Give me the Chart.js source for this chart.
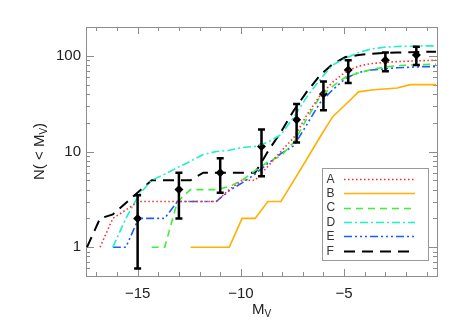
<!DOCTYPE html>
<html>
<head>
<meta charset="utf-8">
<script src="https://cdn.jsdelivr.net/npm/chart.js@4/dist/chart.umd.min.js"></script>
<style>
  html, body { margin: 0; padding: 0; background: #fff; }
  #wrap { width: 463px; height: 331px; position: relative; }
</style>
</head>
<body>
<div id="wrap"><canvas id="lfChart"></canvas></div>
<script>
// magnitude bins the model curves are sampled at
const mvGrid = [-17.45, -16.82, -16.2, -15.57, -14.95, -14.32, -13.69, -13.07, -12.44, -11.82,
                -11.19, -10.56, -9.94, -9.31, -8.69, -8.06, -7.43, -6.81, -6.18, -5.56,
                -4.93, -4.3, -3.68, -3.05, -2.43, -1.8, -1.17, -0.55];

// cumulative counts N(<Mv) for each model
const curveA = [null, 1, 2, 2.45, 3, 3, 3, 3, 3, 3, 3, 4, 5, 5, 7, 10, 14, 24, 38, 53, 68, 78, 83, 85, 87, 88, 89, 90];
const curveB = [null, null, null, null, null, null, null, null, 1, 1, 1, 1, 2, 2, 3, 3, 5, 8.3, 14, 23, 31, 42, 44, 45, 46, 50, 50, 50];
const curveC = [null, null, null, null, null, 1, 1, 3, 4, 4, 4, 4.3, 5, 6.3, 7.8, 9, 12.5, 22, 37, 48, 60, 66, 72, 76, 79, 80, 81, 82];
const curveD = [null, null, 1, 2, 3.5, 5, 5.8, 6.8, 7.9, 9.3, 10, 10.3, 11, 11.3, 12.5, 15, 23, 37, 56, 80, 94, 108, 118, 123, 125, 126, 127, 127];
const curveE = [null, null, 1, 1, 2, 2, 2, 3, 3, 3, 3, 3.9, 4.7, 5.8, 7.5, 9.5, 11.5, 19, 32, 44, 58, 67, 71, 73, 75, 76, 77, 77];
const curveF = [1, 2, 2.2, 2.9, 3.8, 5, 5, 5, 5, 6, 6, 6, 6, 6, 10, 16, 27, 42, 62, 82, 97, 102, 105, 107, 108, 109, 110, 110];

// observed counts with error bars
const obsMv = [-15, -13, -11, -9, -7.3, -6, -4.8, -3, -1.5];
const obsN  = [2, 4, 6, 11.3, 21.5, 40, 71, 90, 102];
const obsLo = [0.6, 2, 3.7, 5.5, 12.4, 27, 52, 69, 80];
const obsHi = [3.5, 6, 8.5, 17, 31.4, 54, 90, 108, 124];

const xTickLabels = [-15, -10, -5];
const yTickLabels = [1, 10, 100];

const toPoints = (ys) => mvGrid.map((mv, i) => ({ x: mv, y: ys[i] }));

function lineSet(label, ys, color, dash, width) {
    return {
        label: label,
        data: toPoints(ys),
        borderColor: color,
        backgroundColor: color,
        borderDash: dash,
        borderWidth: width,
        pointRadius: 0,
        tension: 0,
        spanGaps: false
    };
}

const FONT = "'Liberation Sans', Arial, sans-serif";

// frame box and inward ticks on all four sides
const frameTicks = {
    id: 'frameTicks',
    beforeDatasetsDraw(chart) {
        const { ctx, chartArea: a, scales: { x, y } } = chart;
        ctx.save();
        ctx.strokeStyle = '#8c8c8c';
        ctx.lineWidth = 1;
        ctx.strokeRect(Math.round(a.left) + 0.5, Math.round(a.top) + 0.5,
                       Math.round(a.right - a.left), Math.round(a.bottom - a.top));
        ctx.beginPath();
        for (let v = Math.ceil(x.min); v <= x.max; v++) {
            const px = Math.round(x.getPixelForValue(v)) + 0.5;
            const len = v % 5 === 0 ? 7 : 4;
            ctx.moveTo(px, a.bottom); ctx.lineTo(px, a.bottom - len);
            ctx.moveTo(px, a.top); ctx.lineTo(px, a.top + len);
        }
        for (let d = Math.floor(Math.log10(y.min)); d <= Math.ceil(Math.log10(y.max)); d++) {
            for (let m = 1; m < 10; m++) {
                const v = m * Math.pow(10, d);
                if (v < y.min || v > y.max) continue;
                const py = Math.round(y.getPixelForValue(v)) + 0.5;
                const len = m === 1 ? 8 : 4;
                ctx.moveTo(a.left, py); ctx.lineTo(a.left + len, py);
                ctx.moveTo(a.right, py); ctx.lineTo(a.right - len, py);
            }
        }
        ctx.stroke();
        ctx.restore();
    }
};

// vertical error bars for the observed points
const errorBars = {
    id: 'errorBars',
    afterDatasetsDraw(chart) {
        const { ctx, scales: { x, y } } = chart;
        ctx.save();
        ctx.strokeStyle = '#000';
        ctx.lineWidth = 2.5;
        obsMv.forEach((mv, i) => {
            const px = x.getPixelForValue(mv);
            const top = y.getPixelForValue(obsHi[i]);
            const bot = y.getPixelForValue(obsLo[i]);
            ctx.beginPath();
            ctx.moveTo(px, top); ctx.lineTo(px, bot);
            ctx.moveTo(px - 3.5, top); ctx.lineTo(px + 3.5, top);
            ctx.moveTo(px - 3.5, bot); ctx.lineTo(px + 3.5, bot);
            ctx.stroke();
        });
        ctx.restore();
    }
};

// axis titles with subscripts + boxed legend
const titlesLegend = {
    id: 'titlesLegend',
    afterDraw(chart) {
        const { ctx, chartArea: a } = chart;
        ctx.save();
        ctx.fillStyle = '#222';
        ctx.textBaseline = 'alphabetic';

        // x title: M_V
        const big = '15px ' + FONT, small = '10px ' + FONT;
        ctx.font = big;
        const wM = ctx.measureText('M').width;
        ctx.font = small;
        const wV = ctx.measureText('V').width;
        let cx = (a.left + a.right) / 2 - (wM + wV) / 2;
        ctx.font = big;
        ctx.fillText('M', cx, 314);
        ctx.font = small;
        ctx.fillText('V', cx + wM, 317);

        // y title: N( < M_V)
        ctx.save();
        ctx.translate(44, (a.top + a.bottom) / 2);
        ctx.rotate(-Math.PI / 2);
        ctx.font = big;
        const p1 = 'N( < M', p2 = ')';
        const w1 = ctx.measureText(p1).width, w3 = ctx.measureText(p2).width;
        ctx.font = small;
        const w2 = ctx.measureText('V').width;
        let tx = -(w1 + w2 + w3) / 2;
        ctx.font = big;
        ctx.fillText(p1, tx, 0);
        ctx.font = small;
        ctx.fillText('V', tx + w1, 3);
        ctx.font = big;
        ctx.fillText(p2, tx + w1 + w2, 0);
        ctx.restore();

        // legend box
        const bx = 322.5, by = 168.5, bw = 106, bh = 92;
        ctx.strokeStyle = '#999';
        ctx.lineWidth = 1;
        ctx.strokeRect(bx, by, bw, bh);
        ctx.font = '12px ' + FONT;
        ctx.textBaseline = 'middle';
        chart.data.datasets.slice(0, 6).forEach((ds, i) => {
            const ry = 178.8 + i * 14.4;
            ctx.fillStyle = '#333';
            ctx.fillText(ds.label, 326.5, ry + 0.5);
            ctx.beginPath();
            ctx.setLineDash(ds.borderDash || []);
            ctx.strokeStyle = ds.borderColor;
            ctx.lineWidth = ds.borderWidth;
            ctx.moveTo(344, Math.round(ry) + 0.5);
            ctx.lineTo(415, Math.round(ry) + 0.5);
            ctx.stroke();
        });
        ctx.setLineDash([]);
        ctx.restore();
    }
};

const lfCanvas = document.getElementById('lfChart');
if (lfCanvas) {
    const lfData = {
        datasets: [
            lineSet('A', curveA, '#ff2a2a', [1.5, 2.5], 1.6),
            lineSet('B', curveB, '#ffb000', [], 1.6),
            lineSet('C', curveC, '#3ef03a', [7, 5], 1.6),
            lineSet('D', curveD, '#1ff0c8', [8, 3, 2, 3], 1.6),
            lineSet('E', curveE, '#1a5cff', [8, 3, 2, 3, 2, 3, 2, 3], 1.6),
            lineSet('F', curveF, '#000000', [11, 7], 2),
            {
                type: 'scatter',
                label: 'obs',
                data: obsMv.map((mv, i) => ({ x: mv, y: obsN[i] })),
                pointStyle: 'rectRot',
                pointRadius: 4.5,
                backgroundColor: '#000',
                borderColor: '#000',
                borderWidth: 0,
                showLine: false
            }
        ]
    };

    const lfOptions = {
        responsive: true,
        maintainAspectRatio: false,
        animation: false,
        devicePixelRatio: 1,
        layout: { padding: { left: 0, top: 27, right: 26, bottom: 0 } },
        scales: {
            x: {
                type: 'linear',
                min: -17.5,
                max: -0.5,
                grid: { display: false, drawTicks: false },
                border: { display: false },
                afterBuildTicks: (s) => { s.ticks = xTickLabels.map(v => ({ value: v })); },
                afterFit: (s) => { s.height = 55; },
                ticks: {
                    padding: 9,
                    color: '#222',
                    font: { family: FONT, size: 15 },
                    maxRotation: 0,
                    callback: (v) => (v < 0 ? '\u2212' + Math.abs(v) : String(v))
                }
            },
            y: {
                type: 'logarithmic',
                min: 0.5,
                max: 200,
                grid: { display: false, drawTicks: false },
                border: { display: false },
                afterBuildTicks: (s) => { s.ticks = yTickLabels.map(v => ({ value: v })); },
                afterFit: (s) => { s.width = 86; },
                ticks: {
                    padding: 5,
                    color: '#222',
                    font: { family: FONT, size: 15 },
                    callback: (v) => String(v)
                }
            }
        },
        plugins: {
            legend: { display: false },
            tooltip: { enabled: false }
        }
    };

    new Chart(lfCanvas, {
        type: 'line',
        data: lfData,
        options: lfOptions,
        plugins: [frameTicks, errorBars, titlesLegend]
    });
}
</script>
</body>
</html>
